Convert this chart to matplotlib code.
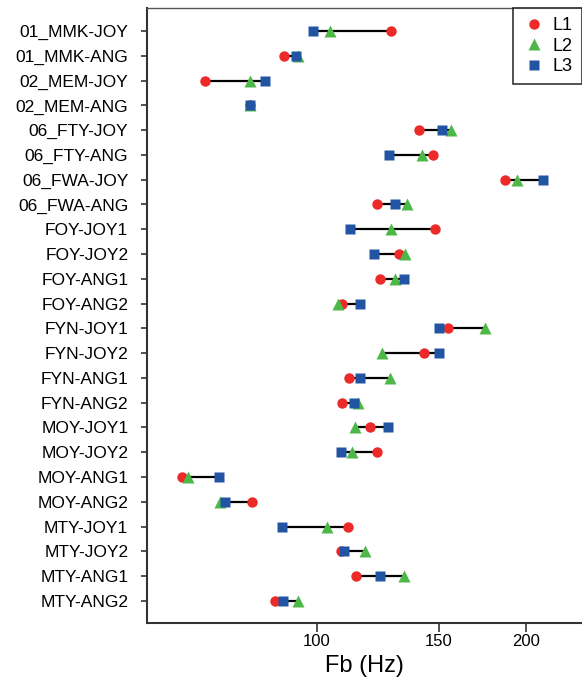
import numpy as np
import matplotlib.pyplot as plt
from matplotlib.ticker import FixedLocator, NullLocator

plt.rcParams['font.family'] = ['Liberation Sans', 'DejaVu Sans']

# conditions (top to bottom)
labels = ['01_MMK-JOY', '01_MMK-ANG', '02_MEM-JOY', '02_MEM-ANG',
          '06_FTY-JOY', '06_FTY-ANG', '06_FWA-JOY', '06_FWA-ANG',
          'FOY-JOY1', 'FOY-JOY2', 'FOY-ANG1', 'FOY-ANG2',
          'FYN-JOY1', 'FYN-JOY2', 'FYN-ANG1', 'FYN-ANG2',
          'MOY-JOY1', 'MOY-JOY2', 'MOY-ANG1', 'MOY-ANG2',
          'MTY-JOY1', 'MTY-JOY2', 'MTY-ANG1', 'MTY-ANG2']

# Fb (Hz) per level
L1 = [128.1, 89.9, 69.0, 80.2, 140.5, 147.1, 186.7, 122.3,
      147.9, 131.4, 123.4, 108.9, 154.7, 142.6, 111.2, 108.8,
      119.3, 122.1, 64.0, 80.8, 110.9, 108.4, 113.9, 87.2]
L2 = [104.6, 94.1, 80.1, 80.1, 156.1, 141.7, 194.1, 134.9,
      127.8, 133.9, 129.5, 107.3, 174.8, 124.1, 127.5, 114.8,
      113.7, 112.3, 65.2, 72.6, 103.4, 117.5, 133.7, 94.0]
L3 = [98.7, 93.4, 84.2, 80.2, 151.4, 127.1, 211.8, 129.7,
      111.7, 120.9, 133.5, 115.4, 150.0, 150.0, 115.4, 113.2,
      126.6, 108.3, 72.3, 73.8, 89.3, 109.4, 123.2, 89.6]

xticks = [100, 150, 200]

red = '#ED2A2A'
green = '#4DB848'
blue = '#2254A4'

fig = plt.figure(figsize=(5.82, 6.79), dpi=100)
ax = fig.add_axes([0.2526, 0.0825, 0.7474, 0.9057])

y = np.arange(len(labels))
lo = np.minimum(np.minimum(L1, L2), L3)
hi = np.maximum(np.maximum(L1, L2), L3)
ax.hlines(y, lo, hi, color='black', lw=1.6, zorder=1)

ax.plot(L1, y, 'o', color=red, ms=7.5, mec='none', label='L1', zorder=2)
ax.plot(L2, y, '^', color=green, ms=8.5, mec='none', label='L2', zorder=3)
ax.plot(L3, y, 's', color=blue, ms=7.5, mec='none', label='L3', zorder=4)

ax.set_xscale('log')
ax.set_xlim(57, 241)
ax.xaxis.set_major_locator(FixedLocator(xticks))
ax.xaxis.set_minor_locator(NullLocator())
ax.set_xticklabels([str(t) for t in xticks])
ax.set_ylim(len(labels) - 1 + 0.89, -0.93)
ax.set_yticks(y)
ax.set_yticklabels(labels)

ax.tick_params(axis='y', length=4.5, width=1.2, labelsize=12.5, pad=9, colors='#333333', labelcolor='black')
ax.tick_params(axis='x', length=6.5, width=1.2, labelsize=12, pad=1.5, colors='#333333', labelcolor='black')
ax.set_xlabel('Fb (Hz)', fontsize=17, labelpad=4)

for s in ['left', 'bottom']:
    ax.spines[s].set_linewidth(1.5)
    ax.spines[s].set_color('#333333')
ax.spines['top'].set_linewidth(1.0)
ax.spines['top'].set_color('#555555')
ax.spines['right'].set_visible(False)

leg = ax.legend(loc='upper right', fontsize=13, frameon=True, fancybox=False,
                edgecolor='black', borderaxespad=0, handletextpad=0.4,
                labelspacing=0.2, borderpad=0.5, handlelength=1.3)
leg.get_frame().set_linewidth(1.2)

fig.savefig('out.png', dpi=100)
